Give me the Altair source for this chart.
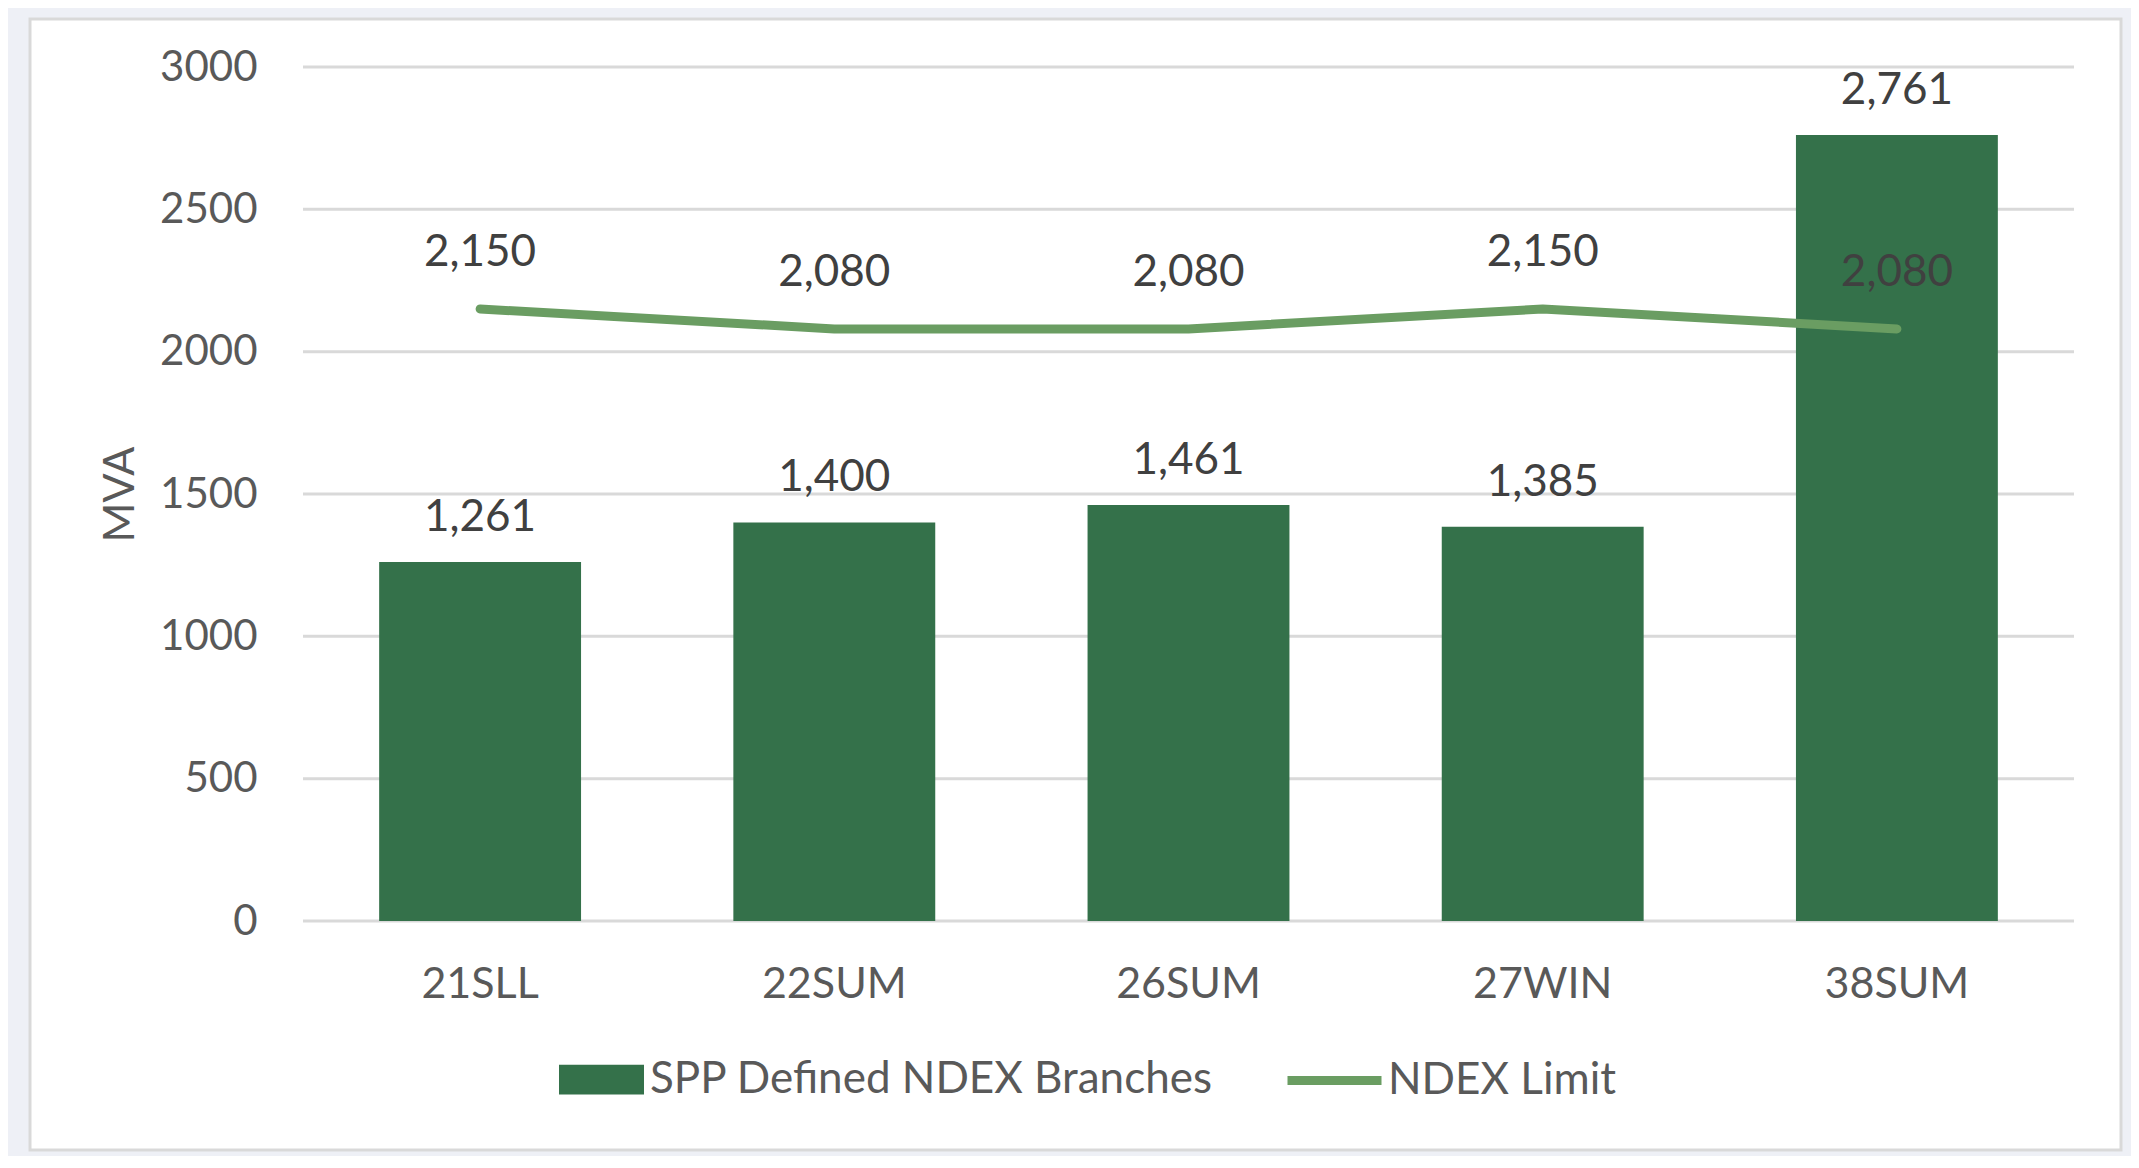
import altair as alt
import pandas as pd

categories = ["21SLL", "22SUM", "26SUM", "27WIN", "38SUM"]
branches = [1261, 1400, 1461, 1385, 2761]
limit = [2150, 2080, 2080, 2150, 2080]
y_ticks = [0, 500, 1000, 1500, 2000, 2500, 3000]
bar_series = "SPP Defined NDEX Branches"
line_series = "NDEX Limit"

BAR_COLOR = "#34714a"
LINE_COLOR = "#6a9d62"
FONT = "Lato"
W, H = 1771, 854

df = pd.DataFrame({"cat": categories, "branches": branches, "limit": limit,
                   "s1": bar_series, "s2": line_series})
grid_df = pd.DataFrame({"v": y_ticks})
frame_df = pd.DataFrame({"a": [0]})

xenc = alt.X("cat:N", sort=categories,
             scale=alt.Scale(paddingInner=0.43, paddingOuter=0.215),
             axis=alt.Axis(title=None, labelAngle=0, labelFont=FONT, labelFontSize=43,
                           labelColor="#595959", labelPadding=42, ticks=False,
                           domain=False, grid=False, zindex=2))
yscale = alt.Scale(domain=[0, 3000], nice=False)

frame = alt.Chart(frame_df).mark_rect(fill="white", stroke="#d9d9d9", strokeWidth=3).encode(
    x=alt.value(-273), x2=alt.value(1818), y=alt.value(-48), y2=alt.value(1083))

grid = alt.Chart(grid_df).mark_rule(color="#d9d9d9", strokeWidth=3).encode(
    y=alt.Y("v:Q", scale=yscale,
            axis=alt.Axis(title="MVA", values=y_ticks, format="d", labelFont=FONT,
                          labelFontSize=42, labelColor="#595959", labelPadding=46,
                          ticks=False, domain=False, grid=False, titleFont=FONT,
                          titleFontSize=43, titleColor="#595959", titleFontWeight="normal",
                          titlePadding=17, zindex=2)),
    x=alt.value(0), x2=alt.value(W))

bars = alt.Chart(df).mark_bar().encode(
    x=xenc,
    y=alt.Y("branches:Q", scale=yscale),
    fill=alt.Fill("s1:N", scale=alt.Scale(domain=[bar_series], range=[BAR_COLOR]),
                  legend=alt.Legend(title=None, orient="none", legendX=256, legendY=970,
                                    symbolType="M-1,-0.35L1,-0.35L1,0.35L-1,0.35Z",
                                    symbolSize=7225, symbolStrokeWidth=0,
                                    labelFont=FONT, labelFontSize=44, labelColor="#595959",
                                    labelOffset=6, labelLimit=1000, padding=0, zindex=2)))

bar_text = alt.Chart(df).mark_text(font=FONT, fontSize=44, color="#404040",
                                   baseline="middle", dy=-44).encode(
    x=alt.X("cat:N", sort=categories), y=alt.Y("branches:Q", scale=yscale),
    text=alt.Text("branches:Q", format=","))

line = alt.Chart(df).mark_line(strokeWidth=9, strokeCap="round", strokeJoin="round").encode(
    x=alt.X("cat:N", sort=categories),
    y=alt.Y("limit:Q", scale=yscale),
    stroke=alt.Stroke("s2:N", scale=alt.Scale(domain=[line_series], range=[LINE_COLOR]),
                      legend=alt.Legend(title=None, orient="none", legendX=980, legendY=962,
                                        symbolType="stroke", symbolSize=8836,
                                        symbolStrokeWidth=9,
                                        labelFont=FONT, labelFontSize=44,
                                        labelColor="#595959", labelOffset=2,
                                        labelLimit=1000, padding=0, zindex=2)))

line_text = alt.Chart(df).mark_text(font=FONT, fontSize=44, color="#404040",
                                    baseline="middle", dy=-56).encode(
    x=alt.X("cat:N", sort=categories), y=alt.Y("limit:Q", scale=yscale),
    text=alt.Text("limit:Q", format=","))

chart = alt.layer(frame, grid, bars, bar_text, line, line_text).resolve_scale(
    fill="independent", stroke="independent"
).properties(
    width=W, height=H,
    autosize=alt.AutoSizeParams(type="none"),
    padding={"left": 295, "top": 59, "right": 57, "bottom": 235},
    background="#eef0f6",
).configure_view(stroke=None)

chart.save("out.html", embed_options={"renderer": "svg", "actions": False})
